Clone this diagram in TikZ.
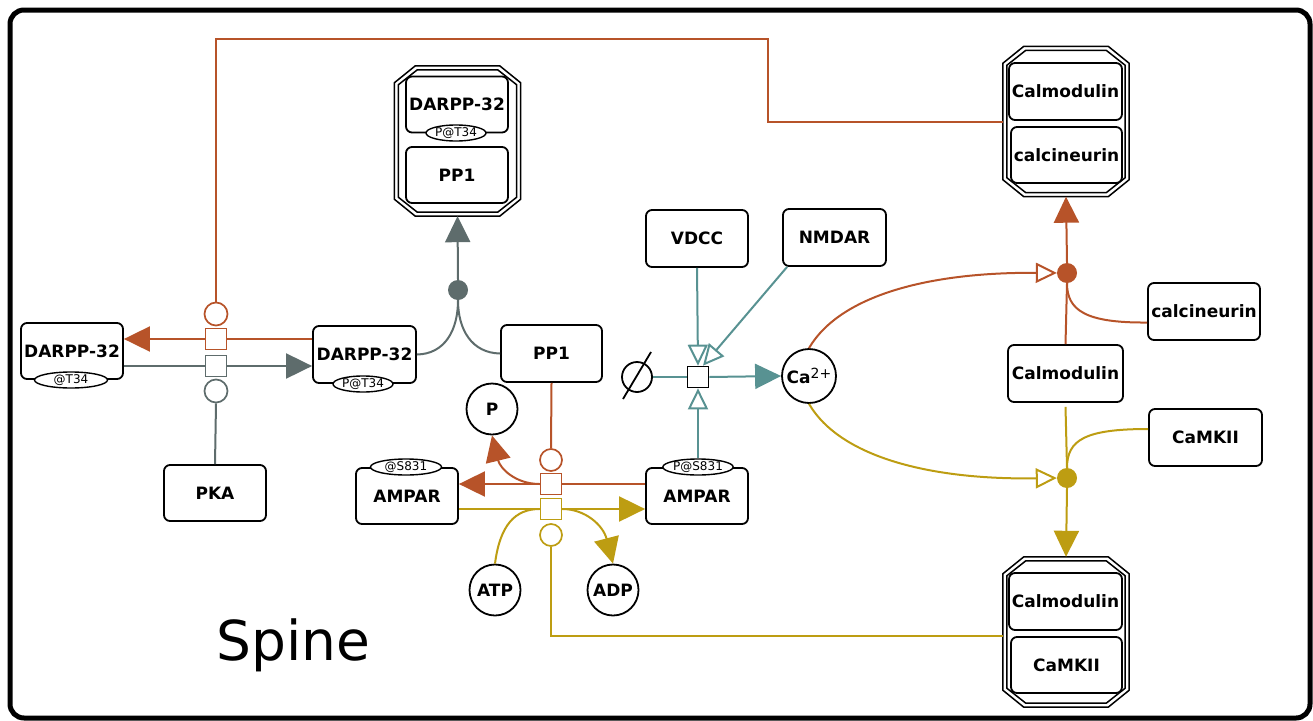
\documentclass[tikz,border=0pt]{standalone}
\usepackage{fontspec}
\setmainfont{DejaVu Sans}
\usetikzlibrary{arrows.meta,shapes.geometric,calc}
\definecolor{cor}{RGB}{183,83,41}
\definecolor{cgr}{RGB}{94,108,108}
\definecolor{cte}{RGB}{88,146,146}
\definecolor{cye}{RGB}{189,157,18}
\tikzset{
 ent/.style={draw, line width=1.8pt, rounded corners=6pt, minimum width=102pt, minimum height=56pt, inner sep=0pt, fill=white, font=\fontsize{17}{20}\selectfont\bfseries},
 sv/.style={draw, ellipse, line width=1.4pt, fill=white, minimum height=16pt, inner sep=0pt, font=\fontsize{12}{13}\selectfont},
 simple/.style={draw, circle, line width=1.8pt, minimum size=51pt, inner sep=0pt, fill=white, font=\fontsize{17}{20}\selectfont\bfseries},
 proc/.style={draw, line width=1.7pt, minimum size=21pt, inner sep=0pt, fill=white},
 catc/.style={draw, circle, line width=1.7pt, minimum size=23pt, inner sep=0pt},
 fdot/.style={circle, minimum size=20pt, inner sep=0pt},
 cbox/.style={minimum width=126pt, minimum height=150pt, inner sep=0pt},
 cboxin/.style={minimum width=118pt, minimum height=142pt, inner sep=0pt},
 cline/.style={draw=black, line width=1.5pt},
 conn/.style={line width=2pt},
 ftip/.style={-{Triangle[length=26pt,width=25pt]}},
 otip/.style={-{Triangle[open,length=21pt,width=20pt]}},
}
% #1 node, #2 horizontal chamfer, #3 vertical chamfer
\newcommand{\drawcplx}[3]{\draw[cline] ([xshift=#2]#1.north west) -- ([xshift=-#2]#1.north east) -- ([yshift=-#3]#1.north east) -- ([yshift=#3]#1.south east) -- ([xshift=-#2]#1.south east) -- ([xshift=#2]#1.south west) -- ([yshift=#3]#1.south west) -- ([yshift=-#3]#1.north west) -- cycle;}
\begin{document}
\begin{tikzpicture}[x=1pt,y=-1pt]
\useasboundingbox (0,0) rectangle (1313,720);
\draw[line width=5pt, rounded corners=14pt] (10,10) rectangle (1310,718);

% ---------- complexes ----------
\node[cbox] (c1) at (457.5,141) {};
\node[cboxin] (c1i) at (457.5,141) {};
\drawcplx{c1}{21pt}{17pt}
\drawcplx{c1i}{19pt}{15pt}
\node[ent] (c1a) at (457,104.5) {DARPP-32};
\node[sv, minimum width=60pt] (c1as) at (456,133) {P@T34};
\node[ent] (c1b) at (457,175) {PP1};

\node[cbox] (c2) at (1066,121.5) {};
\node[cboxin] (c2i) at (1066,121.5) {};
\drawcplx{c2}{21pt}{17pt}
\drawcplx{c2i}{19pt}{15pt}
\node[ent, minimum width=113pt, minimum height=57pt] (c2a) at (1065.5,91.5) {Calmodulin};
\node[ent, minimum width=111pt] (c2b) at (1066.5,155) {calcineurin};

\node[cbox] (c3) at (1066,632) {};
\node[cboxin] (c3i) at (1066,632) {};
\drawcplx{c3}{21pt}{17pt}
\drawcplx{c3i}{19pt}{15pt}
\node[ent, minimum width=113pt, minimum height=57pt] (c3a) at (1065.5,601.5) {Calmodulin};
\node[ent, minimum width=111pt] (c3b) at (1066.5,665) {CaMKII};

% ---------- entities ----------
\node[ent] (dL) at (72,351) {DARPP-32};
\node[ent, minimum width=103pt, minimum height=57pt] (dM) at (364.5,354.5) {DARPP-32};
\node[ent] (pka) at (215,493) {PKA};
\node[ent, minimum width=101pt, minimum height=57pt] (pp1) at (551.5,353.5) {PP1};
\node[ent] (ampL) at (407,496) {AMPAR};
\node[ent] (ampR) at (697,496) {AMPAR};
\node[ent, minimum height=57pt] (vdcc) at (697,238.5) {VDCC};
\node[ent, minimum width=103pt, minimum height=57pt] (nmdar) at (834.5,237.5) {NMDAR};
\node[ent, minimum width=115pt, minimum height=57pt] (calm) at (1065.5,373.5) {Calmodulin};
\node[ent, minimum width=112pt, minimum height=57pt] (calcn) at (1204,311.5) {calcineurin};
\node[ent, minimum width=113pt, minimum height=57pt] (camk) at (1205.5,437.5) {CaMKII};

\node[simple] (P) at (492,409) {P};
\node[simple] (ATP) at (495,590) {ATP};
\node[simple] (ADP) at (613,590) {ADP};
\node[simple, minimum size=54pt] (ca) at (809,376) {Ca\raisebox{5pt}{\fontsize{14}{15}\selectfont\mdseries 2+}};
\node[draw, circle, line width=1.8pt, minimum size=30pt, inner sep=0pt] (es) at (637,377) {};
\draw[line width=1.8pt] (623,399) -- (651,352);

% ---------- process nodes ----------
\node[proc, draw=cor] (pOL) at (216,339) {};
\node[proc, draw=cgr] (pGL) at (216,366) {};
\node[catc, draw=cor] (cOL) at (216,314) {};
\node[catc, draw=cgr] (cGL) at (216,391) {};
\node[proc, draw=cor] (pOM) at (551,484) {};
\node[proc, draw=cye] (pYM) at (551,509) {};
\node[catc, draw=cor, minimum size=22pt] (cOM) at (551,460) {};
\node[catc, draw=cye, minimum size=22pt] (cYM) at (551,535) {};
\node[proc, draw=black] (pT) at (698,377) {};
\node[fdot, fill=cgr] (gD) at (458,290) {};
\node[fdot, fill=cor] (oD) at (1067,273) {};
\node[fdot, fill=cye] (yD) at (1067,478) {};
\coordinate (k1) at (768,39);

% ---------- gray ----------
\draw[conn, cgr] (dL.east |- pGL.west) -- (pGL.west);
\draw[conn, cgr, ftip] (pGL.east) -- (dM.west |- pGL.east);
\draw[conn, cgr] (pka.north) -- (cGL.south);
\draw[conn, cgr, ftip] (gD.north) -- (c1.south);
\draw[conn, cgr] (dM.east) .. controls (445,354) and (458,330) .. (gD.south);
\draw[conn, cgr] (pp1.west) .. controls (472,353) and (458,330) .. (gD.south);

% ---------- orange ----------
\draw[conn, cor] (dM.west |- pOL.east) -- (pOL.east);
\draw[conn, cor, ftip] (pOL.west) -- (dL.east |- pOL.west);
\draw[conn, cor] (cOL.north) |- (k1) |- (c2.west);
\draw[conn, cor] (pp1.south) -- (cOM.north);
\draw[conn, cor] (ampR.west |- pOM.east) -- (pOM.east);
\draw[conn, cor, ftip] (pOM.west) -- (ampL.east |- pOM.west);
\draw[conn, cor, ftip] (pOM.west) .. controls (515,484) and (500,468) .. (P.south);
\draw[conn, cor, otip] (ca.north) .. controls (840,295) and (930,272) .. (oD.west);
\draw[conn, cor] (calm.north) -- (oD.south);
\draw[conn, cor, ftip] (oD.north) -- (c2.south);
\draw[conn, cor] ([yshift=-11pt]calcn.west) .. controls (1085,323) and (1067,310) .. (oD.south);

% ---------- yellow ----------
\draw[conn, cye] (ampL.east |- pYM.west) -- (pYM.west);
\draw[conn, cye, ftip] (pYM.east) -- (ampR.west |- pYM.east);
\draw[conn, cye] (ATP.north) .. controls (500,525) and (515,509) .. (pYM.west);
\draw[conn, cye, ftip] (pYM.east) .. controls (585,509) and (603,525) .. (ADP.north);
\draw[conn, cye] (cYM.south) |- ([yshift=-4pt]c3.west);
\draw[conn, cye, otip] (ca.south) .. controls (840,457) and (930,480) .. (yD.west);
\draw[conn, cye] ([yshift=-4pt]calm.south) -- (yD.north);
\draw[conn, cye] ([yshift=8.5pt]camk.west) .. controls (1085,429) and (1067,440) .. (yD.north);
\draw[conn, cye, ftip] (yD.south) -- (c3.north);

% ---------- teal ----------
\draw[conn, cte, otip] (vdcc.south) -- (pT.north);
\draw[conn, cte, otip] ([xshift=5pt]nmdar.south west) -- ([xshift=5pt]pT.north);
\node[sv, minimum width=70pt] (ampRs) at (698,467) {P@S831};
\draw[conn, cte, otip] (ampRs.north) -- (pT.south);
\draw[conn, cte] (es.east) -- (pT.west);
\draw[conn, cte, ftip] (pT.east) -- (ca.west);

% ---------- state variables ----------
\node[sv, minimum width=73pt] (dLs) at (71,380) {@T34};
\node[sv, minimum width=60pt] (dMs) at (363,384) {P@T34};
\node[sv, minimum width=71pt] (ampLs) at (406,467) {@S831};

\node[anchor=base west, font=\fontsize{55}{60}\selectfont, inner sep=0pt] (spine) at (216,660) {Spine};
\end{tikzpicture}
\end{document}
